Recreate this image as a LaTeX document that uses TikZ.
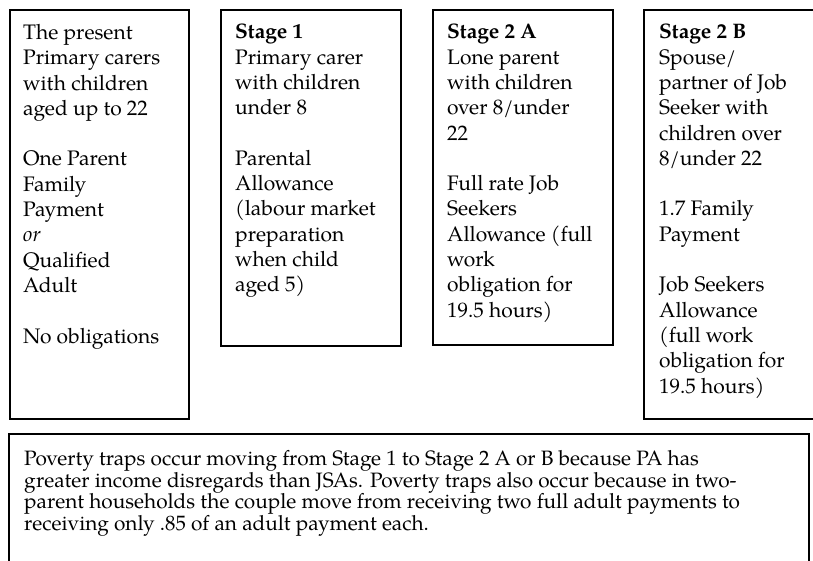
\documentclass[tikz,border=0pt]{standalone}
\usepackage{fontspec}
\setmainfont{TeX Gyre Pagella}
\begin{document}
\begin{tikzpicture}[x=1pt,y=-1pt,
  box/.style={draw=black, line width=2pt, inner sep=0pt, anchor=north west},
  txt/.style={anchor=north west, inner sep=0pt, align=left, font=\fontsize{21}{25.3}\selectfont},
  note/.style={anchor=north west, inner sep=0pt, align=left, font=\fontsize{20.8}{21.7}\selectfont}]
\useasboundingbox (0,0) rectangle (813,560);
\node[box, minimum width=179pt, minimum height=409pt] (b1) at (9,9) {};
\node[box, minimum width=180pt, minimum height=336pt] (b2) at (220,9) {};
\node[box, minimum width=180pt, minimum height=335pt] (b3) at (432,9) {};
\node[box, minimum width=190pt, minimum height=409pt] (b4) at (643,9) {};
\node[box, minimum width=800pt, minimum height=150pt] (b5) at (8,433) {};
\node[txt] (t1) at (23,24) {The present\\Primary carers\\with children\\aged up to 22\\[25.3pt]One Parent\\Family\\Payment\\\textit{or}\\Qualified\\Adult\\[25.3pt]No obligations};
\node[txt] (t2) at (235,24) {\textbf{Stage 1}\\Primary carer\\with children\\under 8\\[25.3pt]Parental\\Allowance\\(labour market\\preparation\\when child\\aged 5)};
\node[txt] (t3) at (447,24) {\textbf{Stage 2 A}\\Lone parent\\with children\\over 8/under\\22\\[25.3pt]Full rate Job\\Seekers\\Allowance (full\\work\\obligation for\\19.5 hours)};
\node[txt] (t4) at (659,24) {\textbf{Stage 2 B}\\Spouse/\\partner of Job\\Seeker with\\children over\\8/under 22\\[25.3pt]1.7 Family\\Payment\\[25.3pt]Job Seekers\\Allowance\\(full work\\obligation for\\19.5 hours)};
\node[note] (t5) at (24,450) {Poverty traps occur moving from Stage 1 to Stage 2 A or B because PA has\\greater income disregards than JSAs. Poverty traps also occur because in two-\\parent households the couple move from receiving two full adult payments to\\receiving only .85 of an adult payment each.};
\end{tikzpicture}
\end{document}
